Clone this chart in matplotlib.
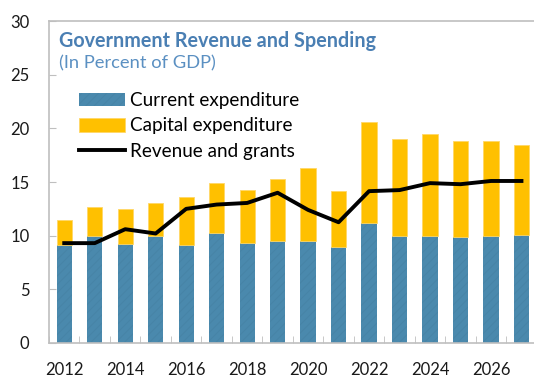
import matplotlib
matplotlib.use("Agg")
import matplotlib.pyplot as plt
import numpy as np

plt.rcParams['font.family'] = ['Lato', 'DejaVu Sans']
plt.rcParams['hatch.linewidth'] = 0.6

# Datos (% del PIB)
years = list(range(2012, 2028))
current_exp = [9.1, 10.0, 9.2, 10.0, 9.1, 10.2, 9.3, 9.5, 9.5, 8.9, 11.2, 10.0, 10.0, 9.9, 10.0, 10.1]
capital_exp = [2.4, 2.7, 3.3, 3.0, 4.5, 4.7, 5.0, 5.8, 6.8, 5.25, 9.4, 9.0, 9.5, 8.9, 8.8, 8.4]
revenue = [9.3, 9.3, 10.6, 10.2, 12.5, 12.9, 13.05, 14.0, 12.4, 11.25, 14.15, 14.25, 14.9, 14.8, 15.1, 15.1]

W, H = 534, 377
fig = plt.figure(figsize=(W / 100, H / 100), dpi=100)
ax = fig.add_axes([49 / W, (H - 342.8) / H, (536.7 - 49) / W, (342.8 - 21.3) / H])

blue = '#4a89ad'
yellow = '#ffc000'

b1 = ax.bar(years, current_exp, width=0.5, color=blue, edgecolor='#4683a6',
            linewidth=0, hatch='////', label='Current expenditure', zorder=2)
b2 = ax.bar(years, capital_exp, width=0.5, bottom=current_exp, color=yellow,
            edgecolor='#ffd766', linewidth=0.6, label='Capital expenditure', zorder=2)
ln, = ax.plot(years, revenue, color='black', linewidth=2.8, label='Revenue and grants', zorder=3)

ax.set_xlim(2011.5, 2027.5)
ax.set_ylim(0, 30)
ax.set_yticks(range(0, 31, 5))
ax.set_xticks(range(2012, 2028, 2))
ax.set_xticks(np.arange(2011.5, 2028, 1), minor=True)

for s in ax.spines.values():
    s.set_color('#bfbfbf')
    s.set_linewidth(1.2)

ax.tick_params(axis='y', direction='in', length=5, color='#bfbfbf', labelsize=12, pad=14, labelcolor='#1a1a1a')
ax.tick_params(axis='x', which='major', length=0, labelsize=12, pad=14, labelcolor='#1a1a1a')
ax.tick_params(axis='x', which='minor', direction='in', length=5, color='#bfbfbf')

fig.text(59 / W, 1 - 40.7 / H, 'Government Revenue and Spending', color='#4a7fb3',
         fontsize=14.2, fontweight='bold', va='center', ha='left')
fig.text(59 / W, 1 - 63.3 / H, '(In Percent of GDP)', color='#5b90c2',
         fontsize=13.2, va='center', ha='left')

ax.legend(handles=[b1, b2, ln], loc='upper left', bbox_to_anchor=(79 / W, 1 - 92 / H),
          bbox_transform=fig.transFigure, frameon=False, fontsize=13.6,
          handlelength=2.45, handletextpad=0.25, labelspacing=0.45,
          borderpad=0, borderaxespad=0)

fig.savefig('out.png', dpi=100)
